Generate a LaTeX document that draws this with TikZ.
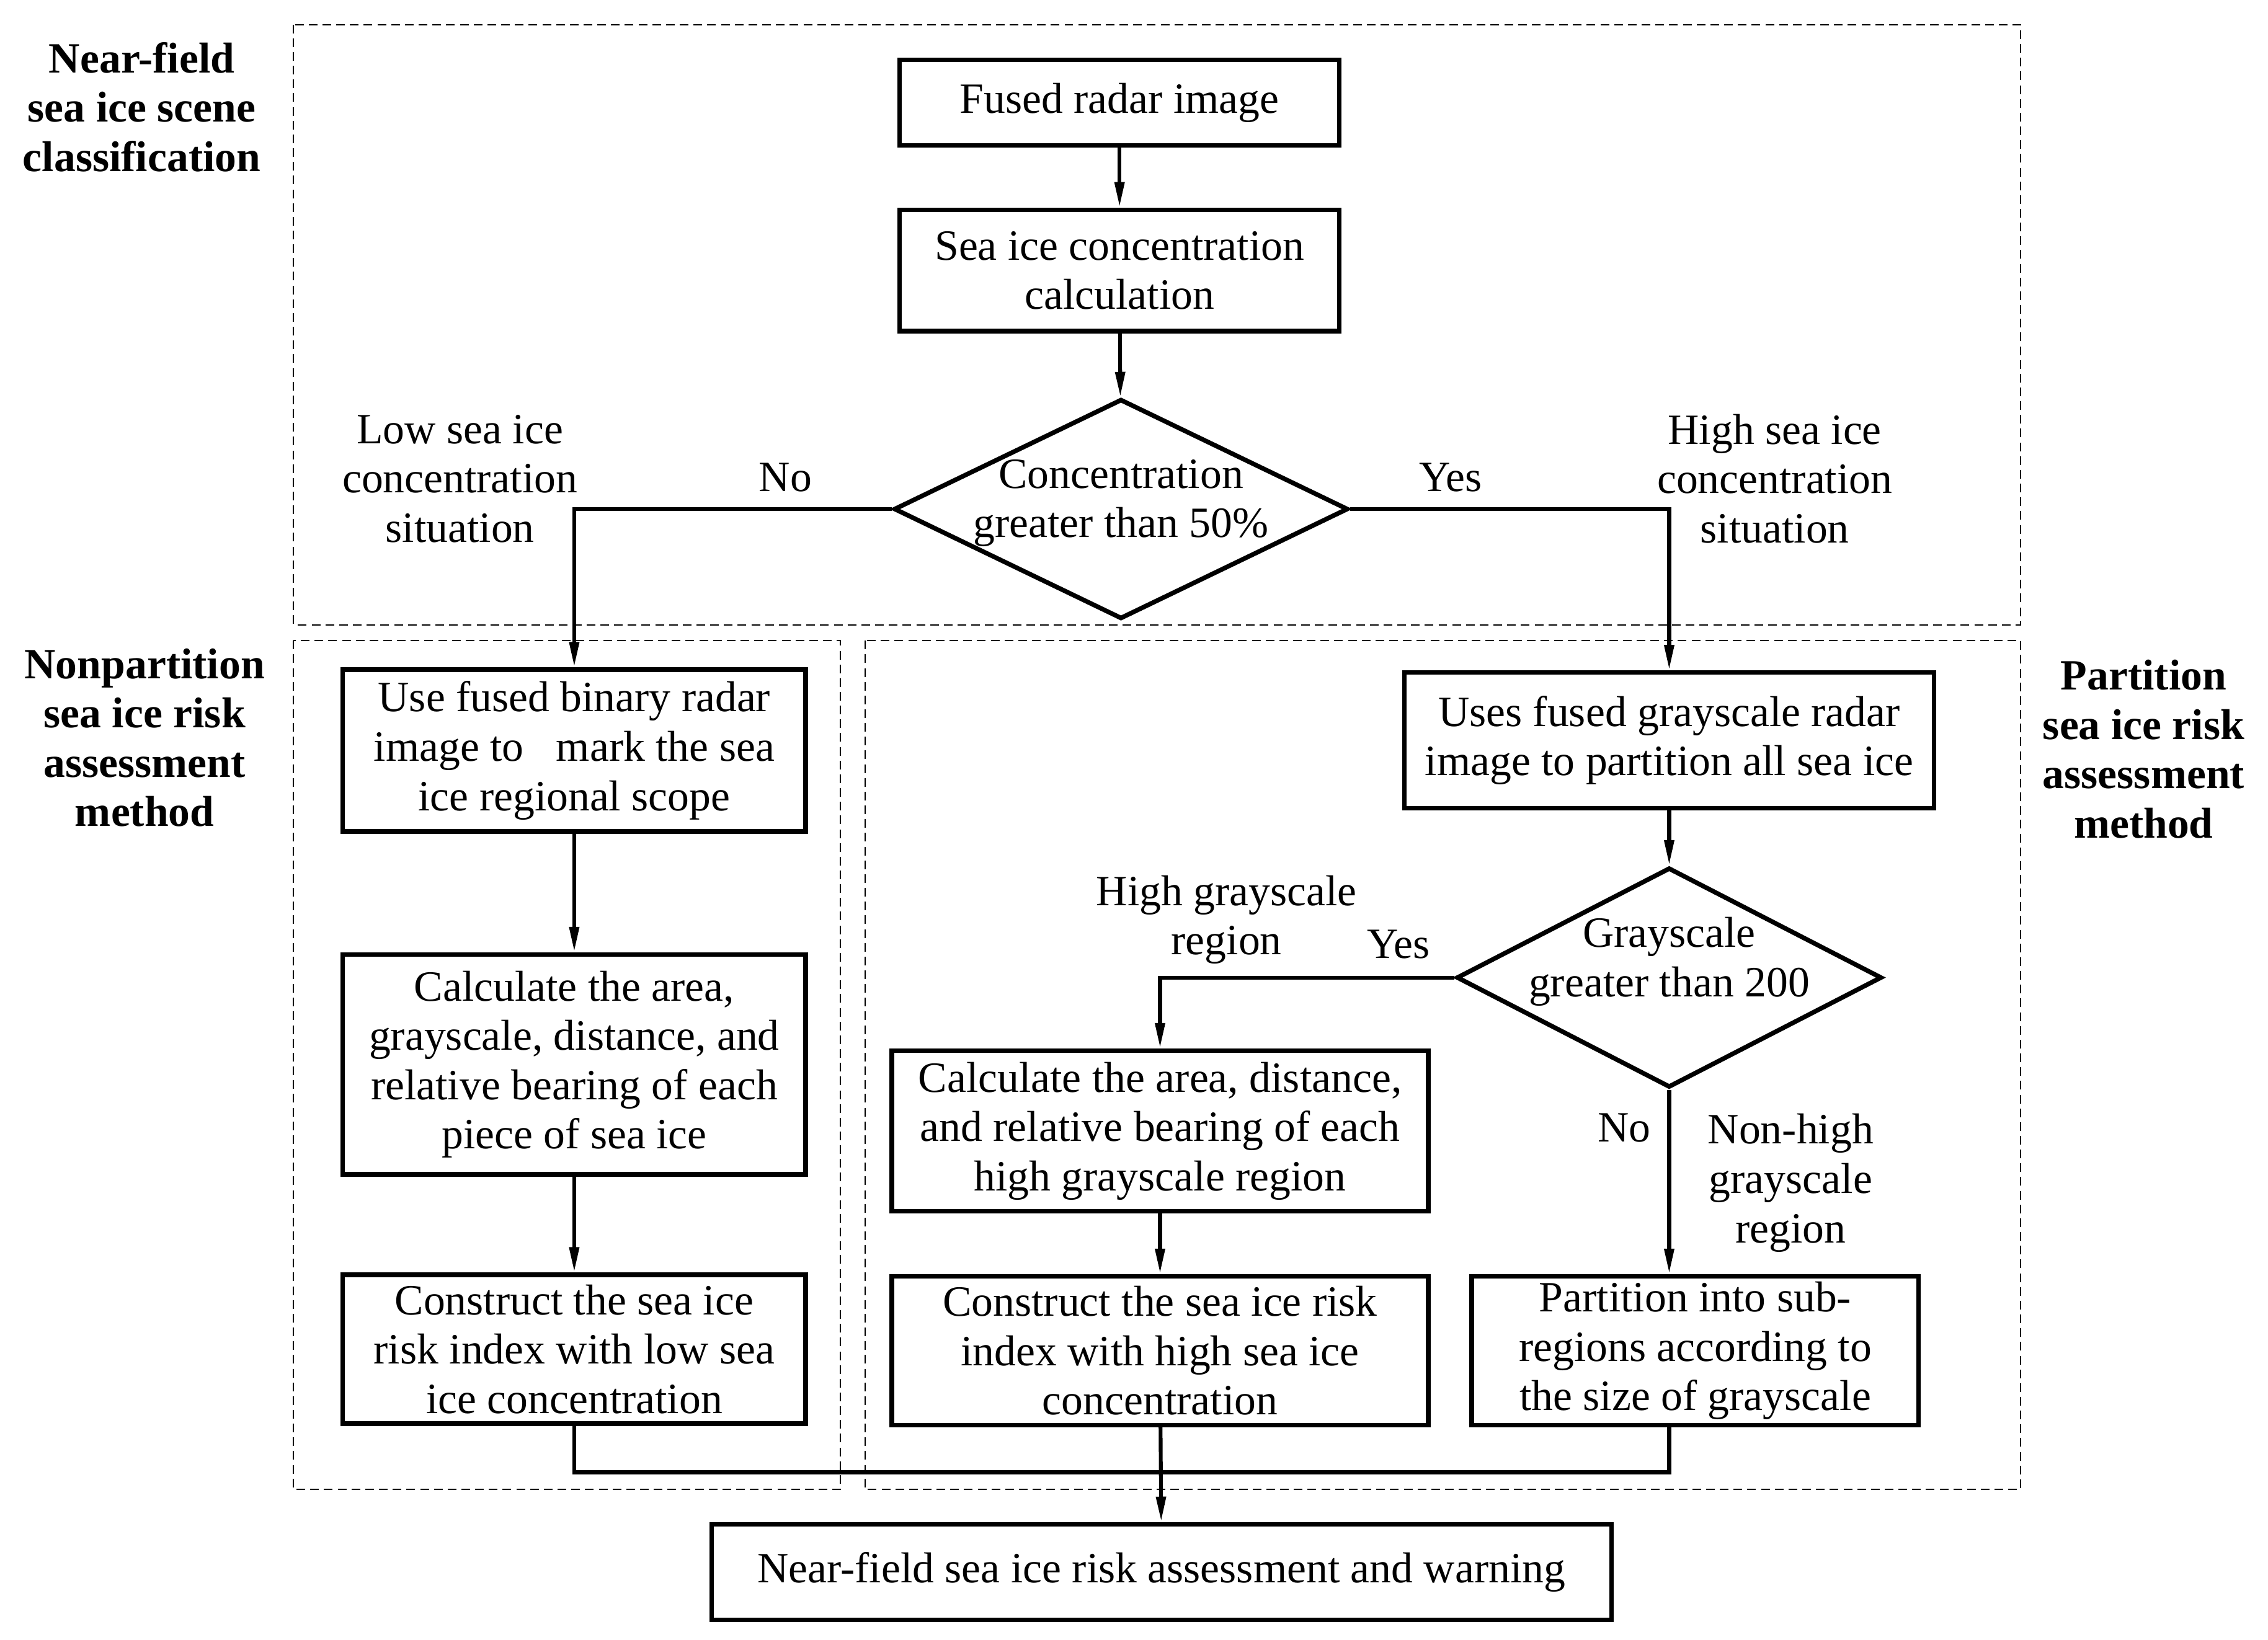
\documentclass[tikz,border=0pt]{standalone}
\usepackage{fontspec}
\setmainfont{Liberation Serif}
\usetikzlibrary{arrows.meta,positioning,shapes.geometric,calc}

\begin{document}
\begin{tikzpicture}[
  x=0.2mm, y=-0.2mm,
  >={Triangle[length=3.5mm, width=1.3mm]},
  every node/.style={font=\fontsize{17}{19.4}\selectfont},
  box/.style={draw, line width=1.8pt, align=center, inner sep=0pt},
  decision/.style={draw, diamond, line width=1.8pt, inner sep=0pt},
  lbl/.style={align=center, inner sep=1pt},
  side/.style={lbl, font=\fontsize{17}{19.4}\selectfont\bfseries},
  e/.style={->, line width=1.5pt},
  zone/.style={dashed, dash pattern=on 1.2mm off 0.7mm, line width=0.5pt}
]
\useasboundingbox (0,0) rectangle (1568,1134);

% dashed zones
\draw[zone] (203,17)  rectangle (1397,432);
\draw[zone] (203,443) rectangle (581,1030);
\draw[zone] (598,443) rectangle (1397,1030);

\node[side] (zscene) at (98,74)  {Near-field\\sea ice scene\\classification};
\node[side] (znon)   at (100,510) {Nonpartition\\sea ice risk\\assessment\\method};
\node[side] (zpart)  at (1482,518) {Partition\\sea ice risk\\assessment\\method};

% scene classification
\node[box, minimum width=60.8mm, minimum height=11.8mm] (fused) at (774,71) {Fused radar image};
\node[box, minimum width=60.8mm, minimum height=16.8mm] (conc)  at (774,187) {Sea ice concentration\\calculation};
\node[decision, minimum width=62.8mm, minimum height=30.4mm] (dec1) at (775,352) {};
\node[lbl] (dec1txt) at ([yshift=0.8mm]dec1) {Concentration\\greater than 50\%};

% nonpartition branch
\node[box, minimum width=64mm, minimum height=22.4mm] (lbox1) at (397,519) {Use fused binary radar\\image to \ \ mark the sea\\ice regional scope};
\node[box, minimum width=64mm, minimum height=30.4mm] (lbox2) at (397,736) {Calculate the area,\\grayscale, distance, and\\relative bearing of each\\piece of sea ice};
\node[box, minimum width=64mm, minimum height=20.6mm] (lbox3) at (397,933) {Construct the sea ice\\risk index with low sea\\ice concentration};

% partition branch
\node[box, minimum width=73.2mm, minimum height=18.8mm] (rbox1) at (1154,512) {Uses fused grayscale radar\\image to partition all sea ice};
\node[decision, minimum width=58.8mm, minimum height=30.4mm] (dec2) at (1154,676) {};
\node[lbl] (dec2txt) at ([yshift=2.2mm]dec2) {Grayscale\\greater than 200};
\node[box, minimum width=74.2mm, minimum height=22.2mm] (mbox1) at (802,782) {Calculate the area, distance,\\and relative bearing of each\\high grayscale region};
\node[box, minimum width=74.2mm, minimum height=20.6mm] (mbox2) at (802,934) {Construct the sea ice risk\\index with high sea ice\\concentration};
\node[box, minimum width=61.8mm, minimum height=20.6mm] (rbox2) at (1172,934) {Partition into sub-\\regions according to\\the size of grayscale};

\node[box, minimum width=124.4mm, minimum height=13.2mm] (final) at (803,1087) {Near-field sea ice risk assessment and warning};

% branch labels
\node[lbl] (no1)   at (543,330)  {No};
\node[lbl] (yes1)  at (1003,330) {Yes};
\node[lbl] (low)   at (318,331)  {Low sea ice\\concentration\\situation};
\node[lbl] (high)  at (1227,331) {High sea ice\\concentration\\situation};
\node[lbl] (hgray) at (848,636)  {High grayscale\\region};
\node[lbl] (yes2)  at (967,653)  {Yes};
\node[lbl] (no2)   at (1123,780) {No};
\node[lbl] (nhigh) at (1238,818) {Non-high\\grayscale\\region};

\draw[e] (fused) -- (conc);
\draw[e] (conc) -- (dec1);
\draw[e] (dec1.west) -| (lbox1.north);
\draw[e] (dec1.east) -| (rbox1.north);
\draw[e] (lbox1) -- (lbox2);
\draw[e] (lbox2) -- (lbox3);
\draw[e] (rbox1) -- (dec2);
\draw[e] (dec2.west) -| (mbox1.north);
\draw[e] (mbox1) -- (mbox2);
\draw[e] (dec2.south) -- (dec2.south |- rbox2.north);

% the three results meet on one line above the warning box
\coordinate (rfoot) at (dec2.south |- rbox2.south);
\draw[line width=1.5pt] (lbox3.south) -- ++(0,32) -| (rfoot);
\draw[e] (mbox2) -- (final);

\end{tikzpicture}
\end{document}
